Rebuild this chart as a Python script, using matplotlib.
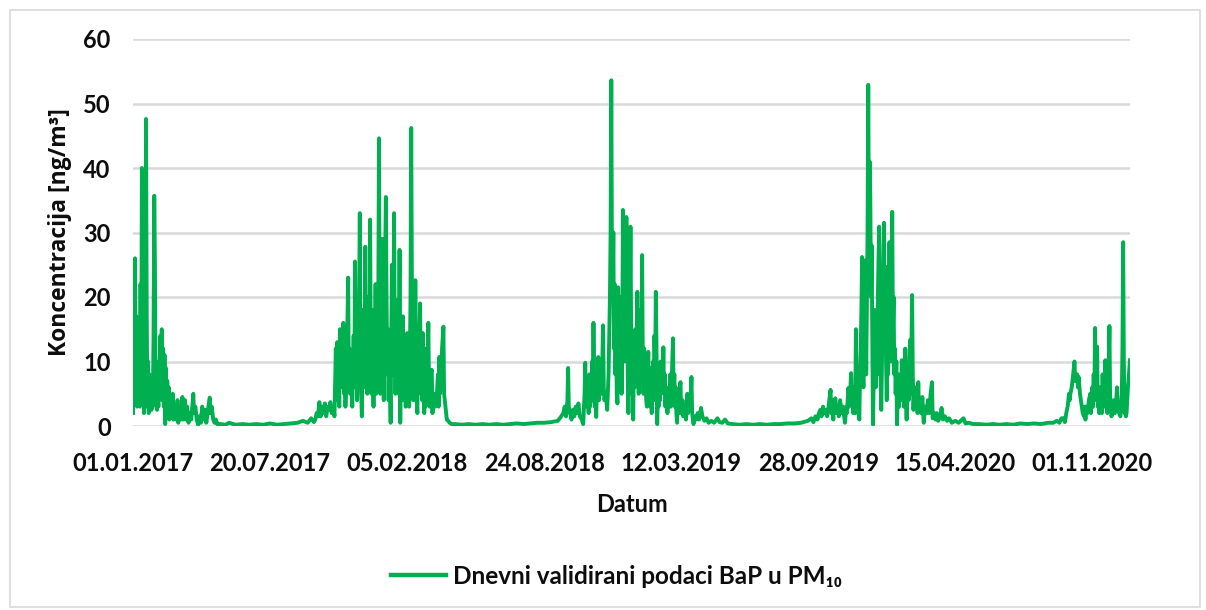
import matplotlib
matplotlib.use("Agg")
import matplotlib.pyplot as plt
import matplotlib.dates as mdates
from matplotlib.patches import Rectangle
import pandas as pd

plt.rcParams['font.family'] = ['Lato', 'DejaVu Sans']

start_date = "2017-01-01"
last_day = 1455
tick_step_days = 200
n_ticks = 8
y_ticks = [0, 10, 20, 30, 40, 50, 60]
x_label = "Datum"
y_label = "Koncentracija [ng/m³]"
series_label = "Dnevni validirani podaci BaP u PM₁₀"

# winter 2016/17 and summer 2017
days_2017 = [0, 1, 2, 3, 4, 5, 6, 7, 8, 9, 10, 11, 12, 13, 14, 15, 16, 17, 18, 19, 20, 21, 22, 23, 24, 25, 26, 27, 28, 29, 30, 31, 32, 33, 34, 35, 36, 37, 38, 40, 41, 42, 43, 44, 45, 46, 47, 48, 49, 50, 51, 52, 53, 55, 57, 58, 59, 61, 63, 65, 66, 68, 70, 72, 73, 75, 76, 77, 79, 81, 83, 85, 88, 89, 91, 93, 95, 97, 99, 101, 103, 105, 107, 109, 110, 112, 113, 115, 117, 119, 121, 123,
             128, 135, 140, 150, 160, 170, 180, 190, 200, 210, 220, 230, 240, 248, 255, 260, 264]
conc_2017 = [2, 9, 4, 26, 5, 17, 3, 15, 5, 11, 3, 22, 7, 40, 12, 18, 2, 25, 6, 47.6, 18, 3, 10, 2, 8, 3, 7, 2.5, 6, 3, 15, 35.7, 25, 4, 10, 2.5, 7, 3, 6, 14, 6, 15, 4, 12, 3, 11, 0.3, 9, 2, 7, 3, 6, 1, 4, 2, 5, 1, 3, 1, 4, 0.5, 3, 1, 4.5, 1, 2, 4, 1, 3, 0.5, 2, 1, 5, 2, 3, 1, 0.2, 1.5, 0.5, 3, 1, 2.5, 0.5, 2, 3, 4.4, 2, 3, 1, 0.5, 1, 0.3,
             0.3, 0.2, 0.5, 0.2, 0.3, 0.2, 0.3, 0.2, 0.4, 0.2, 0.3, 0.4, 0.5, 0.8, 0.5, 1.2, 0.6]

# winter 2017/18 and summer 2018
days_2018 = [266, 268, 270, 272, 274, 276, 278, 280, 282, 284, 286, 288, 290, 292, 294, 296, 297, 298, 299, 300, 301, 302, 303, 305, 307, 308, 309, 310, 312, 314, 315, 316, 317, 318, 320, 322, 323, 324, 325, 326, 327, 328, 329, 330, 331, 332, 333, 334, 335, 336, 337, 338, 339, 340, 341, 342, 343, 344, 345, 346, 347, 348, 349, 350, 351, 352, 353, 354, 355, 356, 357, 358, 359, 360, 361, 362, 363, 364, 365, 366, 367, 368, 369, 370, 371, 372, 373, 374, 375, 376, 377, 378, 379, 380, 381, 382, 383, 384, 385, 386, 387, 388, 389, 390, 391, 392, 393, 394, 395, 396, 397, 398, 400, 401, 402, 403, 404, 405, 406, 407, 408, 409, 410, 411, 412, 413, 414, 415, 416, 417, 418, 419, 420, 421, 422, 423, 424, 425, 426, 427, 428, 429, 431, 432, 433, 434, 436, 437, 439, 441, 443, 445, 446, 447, 448, 450, 451, 453, 454, 456, 458, 460, 462, 465,
             470, 480, 490, 500, 510, 520, 530, 540, 550, 560, 570, 580, 590, 600, 610, 620]
conc_2018 = [1, 2, 1.5, 3.7, 1.5, 3, 2, 3.5, 1.5, 3, 2.5, 3.7, 2, 3, 1.5, 12, 5, 13, 4, 10, 3, 15, 6, 8, 16, 5, 12, 3, 10, 23, 6, 12, 5, 8, 3, 14, 6, 25.5, 8, 18, 4, 12, 6, 20, 33, 10, 5, 1.5, 10, 18, 6, 14, 27.8, 8, 15, 5, 12, 20, 6, 32, 12, 5, 18, 10, 3, 15, 7, 22, 5, 12, 8, 20, 44.6, 15, 5, 22, 8, 29, 10, 4, 18, 25, 35.5, 20, 8, 15, 4, 12, 6.7, 0.5, 15, 25, 8, 15, 33, 12, 5, 10, 19.5, 6, 14, 5, 27.3, 0.5, 10, 5, 12, 17, 4, 8, 10, 3, 14.4, 5, 8, 3, 10, 20, 46.2, 22, 10, 4, 12, 6, 22.6, 8, 4, 2, 12, 6, 15, 19, 5, 10, 4, 14.4, 6, 2, 8, 3, 12, 5, 16, 6, 3, 8, 8.7, 2, 5, 3, 4, 8, 3, 10.7, 5, 8, 12, 15.4, 5, 3, 1, 0.8, 0.5, 0.3,
             0.3, 0.2, 0.3, 0.2, 0.3, 0.2, 0.3, 0.2, 0.3, 0.4, 0.3, 0.4, 0.5, 0.5, 0.6, 0.8]

# winter 2018/19 and summer 2019
days_2019 = [625, 628, 630, 632, 634, 635, 636, 638, 640, 642, 644, 646, 648, 650, 652, 655, 657, 659, 660, 661, 663, 665, 666, 667, 669, 670, 671, 672, 673, 674, 675, 676, 677, 678, 679, 680, 682, 684, 686, 687, 688, 690, 692, 694, 696, 697, 698, 699, 700, 701, 702, 703, 704, 705, 706, 707, 708, 709, 710, 711, 712, 713, 714, 715, 716, 717, 718, 719, 720, 721, 722, 723, 724, 725, 726, 727, 728, 729, 730, 731, 732, 733, 734, 735, 736, 737, 738, 739, 740, 741, 742, 743, 744, 745, 746, 747, 748, 749, 750, 751, 752, 753, 754, 755, 756, 757, 758, 759, 760, 761, 762, 763, 764, 765, 766, 767, 768, 769, 770, 771, 772, 773, 774, 775, 776, 777, 778, 780, 781, 782, 784, 785, 786, 787, 788, 789, 790, 791, 792, 793, 794, 795, 796, 797, 799, 800, 802, 803, 805, 807, 809, 810, 812, 814, 815, 816, 818, 820, 822, 824, 826, 829, 831, 834, 837, 840, 844, 848, 853, 856, 860, 864, 868,
             875, 885, 895, 905, 915, 925, 935, 945, 955, 965, 975, 985]
conc_2019 = [1.5, 2, 3, 1.5, 4, 9, 3, 2, 1, 2.5, 1.5, 3, 2, 3.5, 1.5, 1, 0.3, 5, 9.8, 3, 6, 2, 8, 3, 5, 10, 4, 16, 7, 3, 5, 1.4, 6, 4, 10.7, 4, 8, 5, 15.6, 6, 4, 5, 2.5, 8, 20, 30, 53.6, 25, 20, 30, 12, 22, 8, 15, 5, 3.5, 21.5, 10, 18, 8, 20, 5, 12, 33.5, 22, 10, 25, 15, 32.4, 20, 8, 2, 10, 18, 30.9, 15, 5, 8, 1, 12, 6, 15, 8, 12, 20.8, 10, 5, 15, 8, 18, 12, 26.5, 10, 5, 12, 6, 8, 4, 3, 8, 11.5, 5, 9, 3, 7, 2, 6, 10, 4, 14, 8, 20.8, 12, 0.3, 6, 3, 8, 4, 10, 5, 8, 6, 12.2, 5, 8, 3, 6, 2, 5, 3, 8, 3, 6, 10, 13.6, 5, 8, 3, 6, 2, 0.5, 4, 2, 5, 6.8, 2, 4, 1.5, 3, 1, 5, 2, 3, 5, 7.6, 2, 0.3, 1.5, 1, 2, 1, 2.8, 1.5, 0.8, 1.2, 0.5, 0.8, 0.5, 1.2, 0.6, 0.5, 1.0, 0.4,
             0.3, 0.2, 0.3, 0.2, 0.3, 0.2, 0.3, 0.3, 0.4, 0.4, 0.5, 0.8]

# winter 2019/20 and summer 2020
days_2020 = [990, 993, 996, 999, 1001, 1003, 1005, 1007, 1009, 1011, 1013, 1015, 1018, 1019, 1020, 1022, 1023, 1025, 1027, 1029, 1030, 1032, 1034, 1036, 1039, 1041, 1042, 1044, 1045, 1046, 1048, 1049, 1050, 1051, 1052, 1054, 1055, 1056, 1057, 1058, 1060, 1061, 1062, 1063, 1064, 1065, 1066, 1067, 1068, 1069, 1070, 1071, 1072, 1073, 1074, 1075, 1076, 1077, 1078, 1079, 1080, 1081, 1082, 1083, 1084, 1085, 1086, 1087, 1088, 1089, 1090, 1091, 1092, 1093, 1094, 1095, 1096, 1097, 1098, 1099, 1100, 1101, 1102, 1103, 1104, 1105, 1106, 1107, 1108, 1109, 1110, 1111, 1112, 1113, 1114, 1115, 1116, 1117, 1118, 1119, 1120, 1121, 1122, 1123, 1124, 1125, 1126, 1127, 1128, 1129, 1130, 1131, 1132, 1133, 1134, 1135, 1136, 1137, 1138, 1139, 1140, 1141, 1142, 1143, 1144, 1145, 1146, 1147, 1148, 1150, 1152, 1153, 1154, 1156, 1158, 1160, 1162, 1164, 1166, 1167, 1169, 1171, 1173, 1175, 1178, 1180, 1182, 1185, 1188, 1191, 1195, 1200, 1205, 1212, 1215, 1220, 1226,
             1235, 1245, 1255, 1265, 1275, 1285, 1295, 1305, 1315, 1325, 1335, 1343, 1348, 1352]
conc_2020 = [1.2, 0.6, 1.5, 1, 2, 2.5, 1.5, 3, 2, 2.5, 1.5, 3, 5.6, 2, 4, 1, 3, 4.3, 2, 3, 1.5, 4, 2, 3, 0.5, 3, 2, 5.9, 3, 4, 8.2, 4, 6, 2, 5, 2, 15, 6, 8, 3, 1, 8, 12, 18, 26.2, 10, 6, 15, 20, 25.7, 8, 18, 30, 52.9, 30, 41, 35.5, 20, 28, 12, 0.2, 8, 18, 10, 6, 13.3, 8, 20, 26, 30.9, 15, 8, 2.5, 10, 18, 25, 31.5, 15, 24.7, 10, 4, 12, 8, 20, 28.5, 18, 10, 25, 33.2, 15, 20, 8, 12, 5, 10, 0.2, 5, 8, 3, 7.6, 4, 6, 10.2, 5, 8, 3, 6, 12, 5, 1, 6, 8, 4, 10, 13.3, 5, 12, 20.3, 8, 2.5, 5, 3, 6, 3, 5, 2, 6.8, 3, 4, 2, 4.5, 2, 0.5, 3, 2, 4, 2, 5, 6.8, 1.2, 2, 1, 2, 0.8, 1.5, 2.8, 1, 1.5, 0.8, 1.2, 0.5, 0.8, 0.5, 1.2, 0.4, 0.5, 0.3,
             0.3, 0.2, 0.3, 0.2, 0.3, 0.2, 0.4, 0.3, 0.4, 0.3, 0.5, 0.5, 0.8, 0.5]

# winter 2020/21 start
days_2021 = [1355, 1358, 1360, 1362, 1364, 1366, 1367, 1368, 1370, 1372, 1374, 1375, 1376, 1378, 1379, 1380, 1382, 1384, 1386, 1388, 1389, 1390, 1391, 1393, 1395, 1397, 1398, 1400, 1401, 1402, 1403, 1404, 1405, 1406, 1407, 1408, 1409, 1410, 1412, 1413, 1414, 1415, 1416, 1417, 1418, 1419, 1420, 1421, 1422, 1423, 1424, 1425, 1426, 1427, 1428, 1429, 1431, 1433, 1435, 1436, 1437, 1439, 1441, 1443, 1444, 1445, 1446, 1447, 1448, 1449, 1450, 1452, 1455]
conc_2021 = [1.2, 1.2, 0.6, 2, 3, 5, 4, 5, 6, 8, 10, 7, 8, 8, 6, 7.6, 5, 3.5, 2, 1.5, 3, 1, 3, 2, 4, 5, 2, 6, 3, 8, 4, 15.2, 5, 8, 12.3, 3, 6, 2, 3, 6, 2, 8, 4, 6, 3, 10.2, 4, 8, 2, 6, 10, 15.5, 4, 3, 1.5, 2, 4, 2, 4, 6, 3, 2, 1.5, 5, 12, 28.5, 10, 2, 3, 1.5, 2, 6, 10.2]

days = days_2017 + days_2018 + days_2019 + days_2020 + days_2021
conc = conc_2017 + conc_2018 + conc_2019 + conc_2020 + conc_2021

t0 = pd.Timestamp(start_date)
dates = t0 + pd.to_timedelta(days, unit="D")
tick_dates = pd.date_range(start_date, periods=n_ticks, freq=f"{tick_step_days}D")

TXT = "#0d0d0d"
W, H = 1206, 610
fig = plt.figure(figsize=(W / 100, H / 100), dpi=100)
fig.patches.append(Rectangle((10 / W, 3 / H), 1190 / W, 597 / H, transform=fig.transFigure,
                             fill=False, edgecolor="#D9D9D9", linewidth=1.2))

ax = fig.add_axes([133 / W, 1 - 426 / H, (1130 - 133) / W, (426 - 39) / H])
ax.plot(dates, conc, color="#00B050", linewidth=2.8, solid_joinstyle="round",
        label=series_label, zorder=3)

ax.set_xlim(t0, t0 + pd.Timedelta(days=last_day))
ax.set_ylim(0, 60)
ax.set_yticks(y_ticks)
ax.set_xticks(tick_dates)
ax.xaxis.set_major_formatter(mdates.DateFormatter("%d.%m.%Y"))
ax.grid(axis="y", color="#D9D9D9", linewidth=1.8, zorder=0)
for s in ax.spines.values():
    s.set_visible(False)
ax.tick_params(axis="both", length=0, labelsize=17, colors=TXT)
ax.tick_params(axis="y", pad=16)
ax.tick_params(axis="x", pad=19)
for lab in ax.get_xticklabels() + ax.get_yticklabels():
    lab.set_fontweight("bold")

ax.set_xlabel(x_label, fontsize=17, fontweight="bold", color=TXT, labelpad=13)
ax.set_ylabel(y_label, fontsize=16.5, fontweight="bold", color=TXT, labelpad=8,
              family=["Open Sans", "DejaVu Sans"])

leg = fig.legend(loc="center", bbox_to_anchor=(616 / W, 1 - 576 / H), frameon=False,
                 fontsize=17.5, handlelength=2.3, handletextpad=0.25)
for t in leg.get_texts():
    t.set_fontweight("bold")
    t.set_color(TXT)
for l in leg.get_lines():
    l.set_linewidth(3.2)

fig.savefig("out.png", dpi=100)
